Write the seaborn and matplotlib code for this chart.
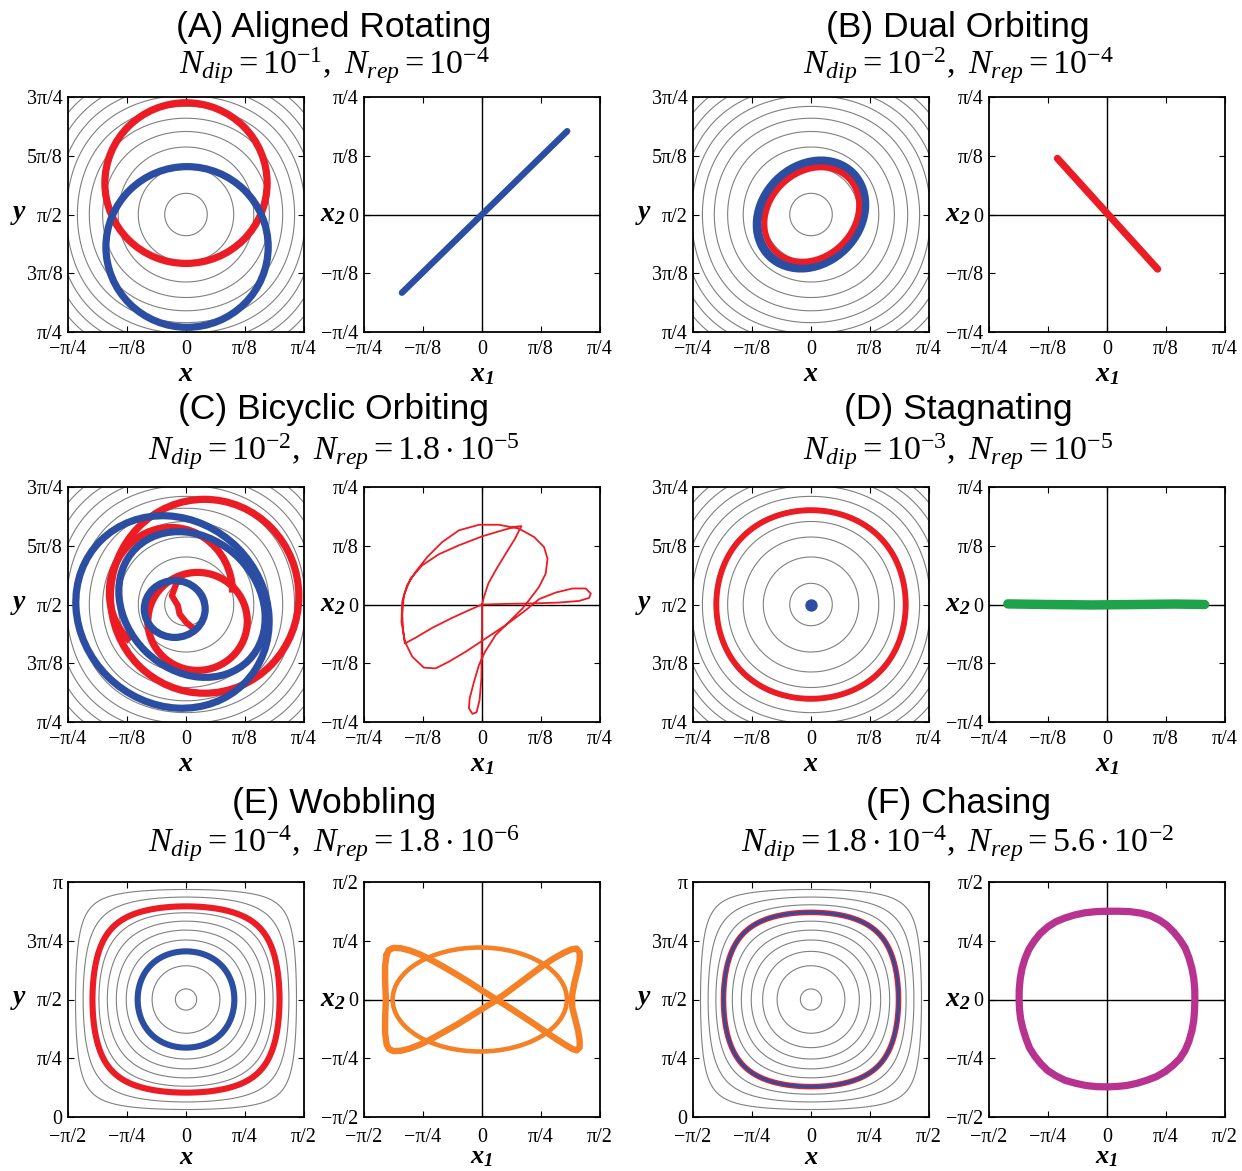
import numpy as np
import matplotlib
matplotlib.use("Agg")
import matplotlib.pyplot as plt
from matplotlib.patches import Ellipse, Arc
import seaborn as sns

# ── colours ───────────────────────────────────────────────────────────────────
RED     = "#ec1c24"
BLUE    = "#2b4ea2"
GREEN   = "#1fa34a"
ORANGE  = "#f58025"
MAGENTA = "#b7338f"
GRAY    = "#808080"

PI = np.pi
Y0 = PI / 2          # centre of the cell (y coordinate)

# ── contour levels of the cellular stream function ───────────────────────────
levels_zoom = [0.55, 0.6, 0.65, 0.7, 0.75, 0.8, 0.85, 0.9, 0.95, 0.99]
levels_cell = [0.1, 0.2, 0.3, 0.4, 0.5, 0.6, 0.7, 0.8, 0.9, 0.99]

# ── (A) aligned rotating ─────────────────────────────────────────────────────
a_red_xy,  a_red_w,  a_red_h  = (0.0, Y0 + 0.210), 1.080, 1.074
a_blue_xy, a_blue_w, a_blue_h = (0.007, Y0 - 0.217), 1.080, 1.074
a_x1 = [-0.533, 0.567]
a_x2 = [-0.523, 0.557]

# ── (B) dual orbiting: tilted closed orbits round the cell centre ────────────
b_blue_xy, b_blue_w, b_blue_h, b_blue_ang = (0.0, Y0), 0.78, 0.645, 45
b_red_xy,  b_red_w,  b_red_h,  b_red_ang  = (0.005, Y0), 0.69, 0.565, 45
b_x1 = [-0.330, 0.337]
b_x2 = [0.375, -0.365]

# ── (C) bicyclic orbiting: loops of the two particles ────────────────────────
#      (centre x, centre y, width, height, angle)
c_blue_loops = [(-0.090, Y0 - 0.050, 1.350, 1.220, -45),
                (0.040, Y0 + 0.000, 1.060, 0.880, -45),
                (-0.075, Y0 - 0.030, 0.405, 0.380, 0)]
c_red_loops  = [(0.124, Y0 + 0.055, 1.254, 1.296, 0),
                (0.077, Y0 - 0.113, 0.662, 0.655, 0)]
#      (centre x, centre y, width, height, theta1, theta2)
c_red_arc = (-0.100, Y0 + 0.080, 0.820, 0.870, 0, 230)
c_red_s_x  = [-0.066, -0.094, -0.054, -0.043, 0.001, 0.046]
c_red_s_dy = [0.137, 0.059, -0.008, -0.063, -0.119, -0.157]

c_x1 = [0.000, 0.013, 0.042, 0.091, 0.158, 0.220, 0.262, 0.224, 0.136, 0.002, -0.153, -0.287, -0.398,
        -0.476, -0.520, -0.531, -0.524, -0.513, -0.442, -0.331, -0.198, -0.087, 0.000, 0.158, 0.336,
        0.513, 0.647, 0.713, 0.724, 0.691, 0.602, 0.491, 0.380, 0.291, 0.158, 0.024, -0.109, -0.220,
        -0.309, -0.387, -0.464, -0.513, -0.536, -0.531, -0.498, -0.442, -0.364, -0.264, -0.153, -0.020,
        0.113, 0.247, 0.347, 0.413, 0.436, 0.424, 0.380, 0.313, 0.269, 0.180, 0.091, 0.020, -0.020,
        -0.053, -0.082, -0.087, -0.064, -0.036, -0.016, -0.004, -0.002, 0.000, 0.000]
c_x2 = [0.000, 0.051, 0.140, 0.229, 0.340, 0.440, 0.524, 0.520, 0.496, 0.456, 0.396, 0.336, 0.262,
        0.173, 0.062, -0.071, -0.182, -0.260, -0.222, -0.156, -0.089, -0.038, 0.000, 0.004, 0.007,
        0.013, 0.024, 0.044, 0.073, 0.107, 0.107, 0.080, 0.036, -0.038, -0.138, -0.227, -0.316, -0.382,
        -0.427, -0.422, -0.349, -0.249, -0.116, 0.018, 0.129, 0.218, 0.318, 0.418, 0.496, 0.533,
        0.533, 0.507, 0.451, 0.384, 0.307, 0.207, 0.118, 0.029, -0.027, -0.116, -0.204, -0.316, -0.404,
        -0.516, -0.627, -0.693, -0.731, -0.720, -0.638, -0.493, -0.316, -0.160, 0.000]

# ── (D) stagnating ───────────────────────────────────────────────────────────
d_red_level = 0.808
d_blue_x, d_blue_y = [0.0], [Y0]
d_x1 = [-0.660, -0.400, -0.100, 0.200, 0.450, 0.650]
d_x2 = [0.004, 0.000, -0.003, 0.000, 0.003, 0.000]

# ── (E) wobbling ─────────────────────────────────────────────────────────────
e_red_level, e_blue_level = 0.32, 0.80
e_bow_x1 = [-1.27, -1.24, -1.18, -1.08, -0.96, -0.82, -0.66, -0.50, -0.33, -0.16, 0.00, 0.16, 0.32,
            0.48, 0.64, 0.80, 0.96, 1.10, 1.20, 1.26, 1.30, 1.30, 1.28, 1.24, 1.20, 1.20, 1.23, 1.27,
            1.30, 1.30, 1.26, 1.19, 1.08, 0.94, 0.78, 0.62, 0.46, 0.30, 0.14, -0.02, -0.18, -0.34,
            -0.50, -0.66, -0.82, -0.96, -1.08, -1.18, -1.24, -1.27, -1.29, -1.29, -1.28, -1.29, -1.29]
e_bow_x2 = [0.60, 0.66, 0.69, 0.685, 0.655, 0.60, 0.52, 0.43, 0.33, 0.225, 0.12, 0.02, -0.08,
            -0.185, -0.29, -0.40, -0.51, -0.60, -0.66, -0.68, -0.64, -0.55, -0.42, -0.26, -0.10, 0.06,
            0.22, 0.38, 0.52, 0.63, 0.68, 0.67, 0.62, 0.54, 0.43, 0.31, 0.19, 0.07, -0.04, -0.14,
            -0.24, -0.34, -0.43, -0.52, -0.60, -0.655, -0.685, -0.69, -0.66, -0.60, -0.45, -0.25,
            0.00, 0.25, 0.45]
e_ell_xy, e_ell_w, e_ell_h = (-0.03, 0.0), 2.32, 1.39

# ── (F) chasing ──────────────────────────────────────────────────────────────
f_level = 0.395
f_x1 = [0.00, 0.15, 0.30, 0.45, 0.58, 0.70, 0.80, 0.89, 0.97, 1.04, 1.09, 1.13, 1.155, 1.168, 1.17,
        1.165, 1.155, 1.13, 1.09, 1.04, 0.97, 0.88, 0.78, 0.66, 0.53, 0.40, 0.26, 0.13, 0.00,
        -0.14, -0.28, -0.42, -0.56, -0.68, -0.79, -0.88, -0.96, -1.03, -1.08, -1.12, -1.15, -1.165, -1.17,
        -1.168, -1.155, -1.13, -1.09, -1.04, -0.97, -0.89, -0.79, -0.68, -0.56, -0.43, -0.29, -0.145]
f_x2 = [1.18, 1.18, 1.175, 1.155, 1.12, 1.06, 0.99, 0.90, 0.80, 0.69, 0.56, 0.42, 0.28, 0.14, 0.00,
        -0.14, -0.28, -0.42, -0.56, -0.68, -0.79, -0.88, -0.96, -1.03, -1.08, -1.12, -1.15, -1.163, -1.168,
        -1.165, -1.15, -1.12, -1.08, -1.02, -0.95, -0.86, -0.76, -0.65, -0.52, -0.39, -0.26, -0.13, 0.00,
        0.14, 0.28, 0.42, 0.55, 0.67, 0.78, 0.88, 0.97, 1.04, 1.09, 1.13, 1.16, 1.175]

# ── titles ───────────────────────────────────────────────────────────────────
titles = ["(A) Aligned Rotating", "(B) Dual Orbiting", "(C) Bicyclic Orbiting",
          "(D) Stagnating", "(E) Wobbling", "(F) Chasing"]
subtitles = [r"$N_{dip} = 10^{-1},\ N_{rep} = 10^{-4}$",
             r"$N_{dip} = 10^{-2},\ N_{rep} = 10^{-4}$",
             r"$N_{dip} = 10^{-2},\ N_{rep} = 1.8\cdot10^{-5}$",
             r"$N_{dip} = 10^{-3},\ N_{rep} = 10^{-5}$",
             r"$N_{dip} = 10^{-4},\ N_{rep} = 1.8\cdot10^{-6}$",
             r"$N_{dip} = 1.8\cdot10^{-4},\ N_{rep} = 5.6\cdot10^{-2}$"]

# ── tick positions / labels ──────────────────────────────────────────────────
q_ticks  = [-PI / 4, -PI / 8, 0, PI / 8, PI / 4]
q_labels = ["\u2212\u03c0/4", "\u2212\u03c0/8", "0", "\u03c0/8", "\u03c0/4"]
yz_ticks  = [PI / 4, 3 * PI / 8, PI / 2, 5 * PI / 8, 3 * PI / 4]
yz_labels = ["\u03c0/4", "3\u03c0/8", "\u03c0/2", "5\u03c0/8", "3\u03c0/4"]
h_ticks  = [-PI / 2, -PI / 4, 0, PI / 4, PI / 2]
h_labels = ["\u2212\u03c0/2", "\u2212\u03c0/4", "0", "\u03c0/4", "\u03c0/2"]
yc_ticks  = [0, PI / 4, PI / 2, 3 * PI / 4, PI]
yc_labels = ["0", "\u03c0/4", "\u03c0/2", "3\u03c0/4", "\u03c0"]


# ── helpers ──────────────────────────────────────────────────────────────────

def stream(xlim, ylim, n=500):
    xs = np.linspace(*xlim, n)
    ys = np.linspace(*ylim, n)
    X, Y = np.meshgrid(xs, ys)
    return X, Y, np.cos(X) * np.sin(Y)


def trace(ax, xs, ys, color, lw, closed=False, dy=0.0):
    xs = np.asarray(xs, float)
    ys = np.asarray(ys, float) + dy
    if closed:
        xs = np.append(xs, xs[0])
        ys = np.append(ys, ys[0])
    sns.lineplot(x=xs, y=ys, sort=False, estimator=None, color=color, lw=lw,
                 ax=ax, legend=False, solid_capstyle="round", solid_joinstyle="round")


def orbit(ax, xy, w, h, color, lw, angle=0, z=3):
    ax.add_patch(Ellipse(xy, w, h, angle=angle, fill=False, edgecolor=color, lw=lw, zorder=z))


def style(ax, xt, xl, yt, yl, xlabel, ylabel, right=False, bottom_row=False):
    ax.set_xlim(xt[0], xt[-1])
    ax.set_ylim(yt[0], yt[-1])
    ax.set_xticks(xt)
    ax.set_xticklabels(xl)
    ax.set_yticks(yt)
    ax.set_yticklabels(yl)
    ax.tick_params(direction="in", length=4, width=0.8, top=True, right=True,
                   bottom=True, left=True, labelsize=14.5, colors="black")
    ax.tick_params(axis="x", pad=8 if bottom_row else 6)
    ax.tick_params(axis="y", pad=4)
    for s in ax.spines.values():
        s.set_visible(True)
        s.set_linewidth(1.3)
        s.set_color("black")
    fs = 19 if bottom_row else 20
    ax.set_xlabel(xlabel, fontsize=fs)
    ax.set_ylabel(ylabel, fontsize=20, rotation=0)
    ax.xaxis.set_label_coords(0.5, -0.176 if bottom_row else -0.18)
    ax.yaxis.set_label_coords(-0.13 if right else -0.21, 0.5)
    ax.yaxis.label.set_verticalalignment("center")
    ax.xaxis.label.set_verticalalignment("center")
    if right:
        ax.axhline(0, color="black", lw=1.0, zorder=1)
        ax.axvline(0, color="black", lw=1.0, zorder=1)


def left_zoom(ax):
    X, Y, P = stream((-PI / 4, PI / 4), (PI / 4, 3 * PI / 4))
    ax.contour(X, Y, P, levels=levels_zoom, colors=GRAY, linewidths=0.8)
    return X, Y, P


def left_cell(ax):
    X, Y, P = stream((-PI / 2, PI / 2), (0, PI))
    ax.contour(X, Y, P, levels=levels_cell, colors=GRAY, linewidths=0.8)
    return X, Y, P


XL = r"$\mathbf{x}$"
YL = r"$\mathbf{y}$"
X1 = r"$\mathbf{x}_\mathbf{1}$"
X2 = r"$\mathbf{x}_\mathbf{2}$"

# ── figure ───────────────────────────────────────────────────────────────────
sns.set_style("white")
plt.rcParams["font.family"] = ["Liberation Serif", "DejaVu Serif"]
plt.rcParams["text.color"] = "black"
plt.rcParams["axes.labelcolor"] = "black"
plt.rcParams["mathtext.fontset"] = "custom"
plt.rcParams["mathtext.rm"] = "Liberation Serif"
plt.rcParams["mathtext.it"] = "Liberation Serif:italic"
plt.rcParams["mathtext.bf"] = "Liberation Serif:bold:italic"

W, H = 1242, 1171
fig = plt.figure(figsize=(W / 100, H / 100), dpi=100)
fig.patch.set_facecolor("white")

lefts = [68, 364, 693, 989]
tops = [97, 487, 882]
aw, ah = 236 / W, 235 / H


def axes_at(col, row):
    return fig.add_axes([lefts[col] / W, 1 - (tops[row] + 235) / H, aw, ah])


title_y = [(27, 66), (410, 452), (803, 844)]
title_x = [334, 958]
for i, (t, st) in enumerate(zip(titles, subtitles)):
    row, side = divmod(i, 2)
    fig.text(title_x[side] / W, 1 - title_y[row][0] / H, t, ha="center", va="center",
             fontsize=25.5, family=["Liberation Sans", "DejaVu Sans"])
    fig.text(title_x[side] / W, 1 - title_y[row][1] / H, st, ha="center", va="center",
             fontsize=24.5)

# (A)
ax = axes_at(0, 0)
left_zoom(ax)
orbit(ax, a_red_xy, a_red_w, a_red_h, RED, 5.2, z=3)
orbit(ax, a_blue_xy, a_blue_w, a_blue_h, BLUE, 5.2, z=4)
style(ax, q_ticks, q_labels, yz_ticks, yz_labels, XL, YL)
ax = axes_at(1, 0)
trace(ax, a_x1, a_x2, BLUE, 4.6)
style(ax, q_ticks, q_labels, q_ticks, q_labels, X1, X2, right=True)

# (B)
ax = axes_at(2, 0)
left_zoom(ax)
orbit(ax, b_blue_xy, b_blue_w, b_blue_h, BLUE, 6.5, angle=b_blue_ang, z=3)
orbit(ax, b_red_xy, b_red_w, b_red_h, RED, 4.3, angle=b_red_ang, z=4)
style(ax, q_ticks, q_labels, yz_ticks, yz_labels, XL, YL)
ax = axes_at(3, 0)
trace(ax, b_x1, b_x2, RED, 5.2)
style(ax, q_ticks, q_labels, q_ticks, q_labels, X1, X2, right=True)

# (C)
ax = axes_at(0, 1)
left_zoom(ax)
for cx, cy, w, h, ang in c_red_loops:
    orbit(ax, (cx, cy), w, h, RED, 5.2, angle=ang, z=3)
cx, cy, w, h, t1, t2 = c_red_arc
ax.add_patch(Arc((cx, cy), w, h, theta1=t1, theta2=t2, edgecolor=RED, lw=5.2, zorder=3))
trace(ax, c_red_s_x, c_red_s_dy, RED, 4.5, dy=Y0)
for cx, cy, w, h, ang in c_blue_loops:
    orbit(ax, (cx, cy), w, h, BLUE, 5.2, angle=ang, z=4)
style(ax, q_ticks, q_labels, yz_ticks, yz_labels, XL, YL)
ax = axes_at(1, 1)
trace(ax, c_x1, c_x2, RED, 1.3)
style(ax, q_ticks, q_labels, q_ticks, q_labels, X1, X2, right=True)

# (D)
ax = axes_at(2, 1)
X, Y, P = left_zoom(ax)
ax.contour(X, Y, P, levels=[d_red_level], colors=RED, linewidths=4.2, zorder=3)
sns.scatterplot(x=d_blue_x, y=d_blue_y, color=BLUE, s=80, linewidth=0, ax=ax, zorder=4)
style(ax, q_ticks, q_labels, yz_ticks, yz_labels, XL, YL)
ax = axes_at(3, 1)
trace(ax, d_x1, d_x2, GREEN, 6.8)
style(ax, q_ticks, q_labels, q_ticks, q_labels, X1, X2, right=True)

# (E)
ax = axes_at(0, 2)
X, Y, P = left_cell(ax)
ax.contour(X, Y, P, levels=[e_red_level], colors=RED, linewidths=4.4, zorder=3)
ax.contour(X, Y, P, levels=[e_blue_level], colors=BLUE, linewidths=4.4, zorder=3)
style(ax, h_ticks, h_labels, yc_ticks, yc_labels, XL, YL, bottom_row=True)
ax = axes_at(1, 2)
orbit(ax, e_ell_xy, e_ell_w, e_ell_h, ORANGE, 3.3)
trace(ax, e_bow_x1, e_bow_x2, ORANGE, 4.6, closed=True)
style(ax, h_ticks, h_labels, h_ticks, h_labels, X1, X2, right=True, bottom_row=True)

# (F)
ax = axes_at(2, 2)
X, Y, P = left_cell(ax)
ax.contour(X, Y, P, levels=[f_level], colors=RED, linewidths=4.0, zorder=3)
ax.contour(X, Y, P, levels=[f_level], colors=BLUE, linewidths=2.2, zorder=4)
style(ax, h_ticks, h_labels, yc_ticks, yc_labels, XL, YL, bottom_row=True)
ax = axes_at(3, 2)
trace(ax, f_x1, f_x2, MAGENTA, 5.2, closed=True)
style(ax, h_ticks, h_labels, h_ticks, h_labels, X1, X2, right=True, bottom_row=True)

fig.savefig("out.png", dpi=100, facecolor="white")
